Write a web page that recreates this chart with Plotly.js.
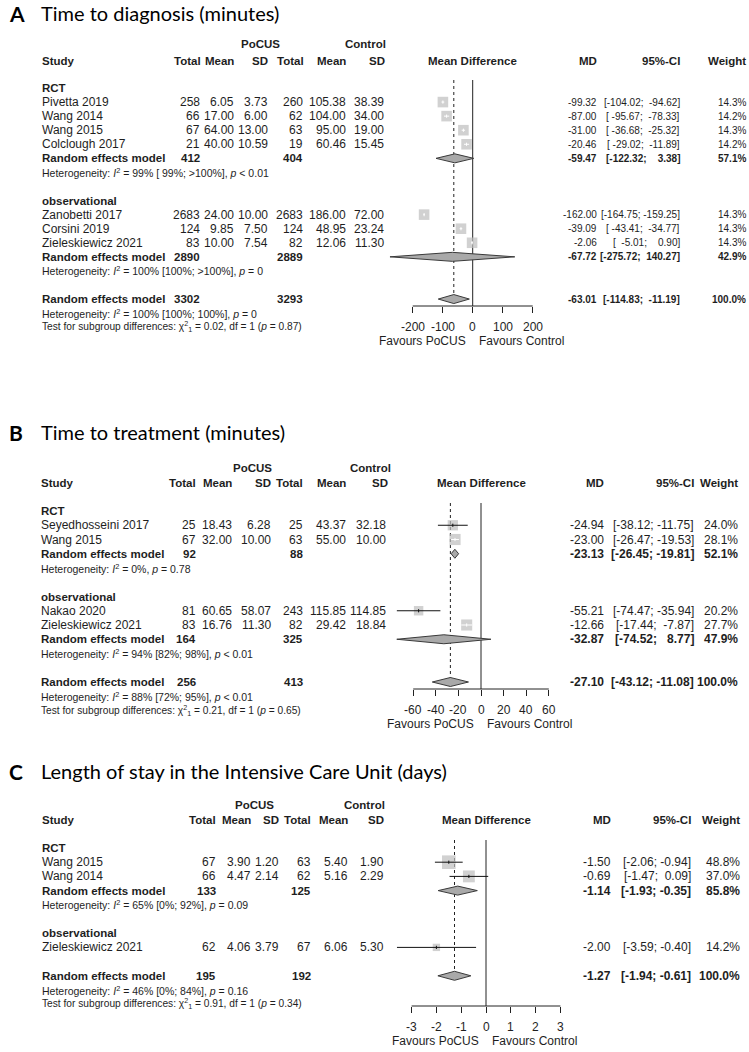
<!DOCTYPE html>
<html><head><meta charset="utf-8">
<script src="https://cdn.plot.ly/plotly-3.0.1.min.js"></script>
<style>body{margin:0;background:#fff}</style>
</head><body><div id="chart" style="width:749px;height:1052px"></div>
<script>
// ================= DATA =================
// Panel A: Time to diagnosis (minutes)
const studiesA = ["Pivetta 2019","Wang 2014","Wang 2015","Colclough 2017","Zanobetti 2017","Corsini 2019","Zieleskiewicz 2021"];
const groupA   = ["RCT","RCT","RCT","RCT","observational","observational","observational"];
const nEA   = [258,66,67,21,2683,124,83];
const meanEA= [6.05,17.00,64.00,40.00,24.00,9.85,10.00];
const sdEA  = [3.73,6.00,13.00,10.59,10.00,7.50,7.54];
const nCA   = [260,62,63,19,2683,124,82];
const meanCA= [105.38,104.00,95.00,60.46,186.00,48.95,12.06];
const sdCA  = [38.39,34.00,19.00,15.45,72.00,23.24,11.30];
const mdA   = [-99.32,-87.00,-31.00,-20.46,-162.00,-39.09,-2.06];
const loA   = [-104.02,-95.67,-36.68,-29.02,-164.75,-43.41,-5.01];
const hiA   = [-94.62,-78.33,-25.32,-11.89,-159.25,-34.77,0.90];
const wA    = [14.3,14.2,14.3,14.2,14.3,14.3,14.3];
const reGroupA = ["RCT","observational"];
const reNEA = [412,2890], reNCA = [404,2889];
const reMDA = [-59.47,-67.72], reLoA = [-122.32,-275.72], reHiA = [3.38,140.27], reWA = [57.1,42.9];
const reHetA = ["Heterogeneity: <i>I</i><sup>2</sup> = 99% [ 99%; &gt;100%], <i>p</i> &lt; 0.01",
                "Heterogeneity: <i>I</i><sup>2</sup> = 100% [100%; &gt;100%], <i>p</i> = 0"];
const totA = {nE:3302, nC:3293, md:-63.01, lo:-114.83, hi:-11.19, w:100.0};
const totHetA = "Heterogeneity: <i>I</i><sup>2</sup> = 100% [100%; 100%], <i>p</i> = 0";
const testA = "Test for subgroup differences: χ<sup>2</sup><sub>1</sub> = 0.02, df = 1 (<i>p</i> = 0.87)";
const ticksA = [-200,-100,0,100,200];

// Panel B: Time to treatment (minutes)
const studiesB = ["Seyedhosseini 2017","Wang 2015","Nakao 2020","Zieleskiewicz 2021"];
const groupB   = ["RCT","RCT","observational","observational"];
const nEB   = [25,67,81,83];
const meanEB= [18.43,32.00,60.65,16.76];
const sdEB  = [6.28,10.00,58.07,11.30];
const nCB   = [25,63,243,82];
const meanCB= [43.37,55.00,115.85,29.42];
const sdCB  = [32.18,10.00,114.85,18.84];
const mdB   = [-24.94,-23.00,-55.21,-12.66];
const loB   = [-38.12,-26.47,-74.47,-17.44];
const hiB   = [-11.75,-19.53,-35.94,-7.87];
const wB    = [24.0,28.1,20.2,27.7];
const reGroupB = ["RCT","observational"];
const reNEB = [92,164], reNCB = [88,325];
const reMDB = [-23.13,-32.87], reLoB = [-26.45,-74.52], reHiB = [-19.81,8.77], reWB = [52.1,47.9];
const reHetB = ["Heterogeneity: <i>I</i><sup>2</sup> = 0%, <i>p</i> = 0.78",
                "Heterogeneity: <i>I</i><sup>2</sup> = 94% [82%; 98%], <i>p</i> &lt; 0.01"];
const totB = {nE:256, nC:413, md:-27.10, lo:-43.12, hi:-11.08, w:100.0};
const totHetB = "Heterogeneity: <i>I</i><sup>2</sup> = 88% [72%; 95%], <i>p</i> &lt; 0.01";
const testB = "Test for subgroup differences: χ<sup>2</sup><sub>1</sub> = 0.21, df = 1 (<i>p</i> = 0.65)";
const ticksB = [-60,-40,-20,0,20,40,60];

// Panel C: Length of stay in the ICU (days)
const studiesC = ["Wang 2015","Wang 2014","Zieleskiewicz 2021"];
const groupC   = ["RCT","RCT","observational"];
const nEC   = [67,66,62];
const meanEC= [3.90,4.47,4.06];
const sdEC  = [1.20,2.14,3.79];
const nCC   = [63,62,67];
const meanCC= [5.40,5.16,6.06];
const sdCC  = [1.90,2.29,5.30];
const mdC   = [-1.50,-0.69,-2.00];
const loC   = [-2.06,-1.47,-3.59];
const hiC   = [-0.94,0.09,-0.40];
const wC    = [48.8,37.0,14.2];
const reGroupC = ["RCT"];
const reNEC = [133], reNCC = [125];
const reMDC = [-1.14], reLoC = [-1.93], reHiC = [-0.35], reWC = [85.8];
const reHetC = ["Heterogeneity: <i>I</i><sup>2</sup> = 65% [0%; 92%], <i>p</i> = 0.09"];
const totC = {nE:195, nC:192, md:-1.27, lo:-1.94, hi:-0.61, w:100.0};
const totHetC = "Heterogeneity: <i>I</i><sup>2</sup> = 46% [0%; 84%], <i>p</i> = 0.16";
const testC = "Test for subgroup differences: χ<sup>2</sup><sub>1</sub> = 0.91, df = 1 (<i>p</i> = 0.34)";
const ticksC = [-3,-2,-1,0,1,2,3];

const groupOrder = ["RCT","observational"];

// ================= DRAWING =================
const W = 749, H = 1052;
const FT = 'Liberation Sans, Arial, sans-serif';
const TF = 'Lato, "Open Sans", sans-serif';
const TXT = '#1e1e1e';
const SQ = '#bdbdbd', DFILL = '#a9a9a9', DLINE = '#3a3a3a';
const BS = 11.5;   // bold size
const traces = [], shapes = [], annotations = [];
const layout = {
  width: W, height: H, margin: {l:0, r:0, t:0, b:0},
  paper_bgcolor: '#fff', plot_bgcolor: 'rgba(0,0,0,0)', showlegend: false,
  yaxis: {range: [H, 0], domain: [0, 1], visible: false, fixedrange: true}
};

function ann(x, y, text, anchor, size, extra) {
  annotations.push(Object.assign({
    xref: 'paper', yref: 'y', x: x / W, y: y, text: text, showarrow: false,
    xanchor: anchor || 'left', yanchor: 'middle', borderpad: 0,
    font: {family: FT, size: size || 12, color: TXT}
  }, extra || {}));
}
const f2 = v => v.toFixed(2);
const pad = (s, n) => '\u00a0'.repeat(Math.max(0, n - s.length)) + s;

function panel(D, C) {
  const xa = C.axis;
  const RS = C.rs;
  const axName = xa === 'x' ? 'xaxis' : 'xaxis' + xa.slice(1);
  const dom = [C.domPx[0] / W, C.domPx[1] / W];
  const range = [(C.domPx[0] - C.zero) / C.scale, (C.domPx[1] - C.zero) / C.scale];
  layout[axName] = {
    domain: dom, range: range, anchor: 'free', position: 1 - C.axisY / H,
    showgrid: false, zeroline: false, showline: false,
    ticks: 'outside', ticklen: 6, tickwidth: 1, tickcolor: '#222',
    tickvals: D.ticks, showticklabels: false, fixedrange: true
  };
  ann(C.letterX, C.titleY, '<b>' + C.letter + '</b>', 'left', 21, {font: {family: TF, size: 21, color: '#000'}});
  ann(C.titleX, C.titleY, C.title, 'left', 20, {font: {family: TF, size: 20, color: '#000'}});
  ann(C.pocusX, C.hdr1Y, '<b>PoCUS</b>', 'center', BS);
  ann(C.controlX, C.hdr1Y, '<b>Control</b>', 'center', BS);
  ann(C.studyX, C.hdr2Y, '<b>Study</b>', 'left', BS);
  const hdrs = ['Total','Mean','SD','Total','Mean','SD'];
  hdrs.forEach((h, j) => ann(C.hdrCols[j], C.hdr2Y, '<b>' + h + '</b>', 'right', BS));
  ann(C.zero, C.hdr2Y, '<b>Mean Difference</b>', 'center', BS);
  ann(C.mdX, C.hdr2Y, '<b>MD</b>', 'right', BS);
  ann(C.ciX, C.hdr2Y, '<b>95%-CI</b>', 'right', BS);
  ann(C.wX, C.hdr2Y, '<b>Weight</b>', 'right', BS);

  const allLo = D.lo.concat(D.reLo, [D.tot.lo]).map(f2);
  const allHi = D.hi.concat(D.reHi, [D.tot.hi]).map(f2);
  const ml = Math.max(...allLo.map(s => s.length)), mu = Math.max(...allHi.map(s => s.length));
  const ci = (lo, hi) => '[' + pad(f2(lo), ml) + '; ' + pad(f2(hi), mu) + ']';

  const yOf = k => C.row0 + k * C.dy;
  let k = 0;
  const sq = {x: [], y: [], s: []};
  const info = [];
  const diamonds = [];
  groupOrder.forEach(g => {
    const idx = D.study.map((s, i) => i).filter(i => D.group[i] === g);
    if (!idx.length) return;
    ann(C.studyX, yOf(k), '<b>' + g + '</b>', 'left', BS); k++;
    idx.forEach(i => {
      const y = yOf(k);
      ann(C.studyX, y, D.study[i], 'left');
      const vals = [String(D.nE[i]), f2(D.meanE[i]), f2(D.sdE[i]), String(D.nC[i]), f2(D.meanC[i]), f2(D.sdC[i])];
      vals.forEach((v, j) => ann(C.valCols[j], y, v, 'right'));
      ann(C.mdX, y, f2(D.md[i]), 'right', RS);
      ann(C.ciX, y, ci(D.lo[i], D.hi[i]), 'right', RS);
      ann(C.wX, y, D.w[i].toFixed(1) + '%', 'right', RS);
      const side = C.sqk * Math.sqrt(D.w[i]);
      sq.x.push(D.md[i]); sq.y.push(y); sq.s.push(side);
      const half = side / 2 / C.scale;
      const inside = D.lo[i] >= D.md[i] - half && D.hi[i] <= D.md[i] + half;
      info[i] = {y: y, col: inside ? '#ffffff' : '#111111'};
      k++;
    });
    const r = D.reGroup.indexOf(g);
    if (r >= 0) {
      const y = yOf(k);
      ann(C.studyX, y, '<b>Random effects model</b>', 'left', BS);
      ann(C.valCols[0], y, '<b>' + D.reNE[r] + '</b>', 'right', BS);
      ann(C.valCols[3], y, '<b>' + D.reNC[r] + '</b>', 'right', BS);
      ann(C.mdX, y, '<b>' + f2(D.reMD[r]) + '</b>', 'right', RS);
      ann(C.ciX, y, '<b>' + ci(D.reLo[r], D.reHi[r]) + '</b>', 'right', RS);
      ann(C.wX, y, '<b>' + D.reW[r].toFixed(1) + '%</b>', 'right', RS);
      diamonds.push({md: D.reMD[r], lo: D.reLo[r], hi: D.reHi[r], y: y});
      k++;
      ann(C.studyX, yOf(k), D.reHet[r], 'left', 10.5); k++;
    }
    k++;
  });
  const yT = yOf(k);
  ann(C.studyX, yT, '<b>Random effects model</b>', 'left', BS);
  ann(C.valCols[0], yT, '<b>' + D.tot.nE + '</b>', 'right', BS);
  ann(C.valCols[3], yT, '<b>' + D.tot.nC + '</b>', 'right', BS);
  ann(C.mdX, yT, '<b>' + f2(D.tot.md) + '</b>', 'right', RS);
  ann(C.ciX, yT, '<b>' + ci(D.tot.lo, D.tot.hi) + '</b>', 'right', RS);
  ann(C.wX, yT, '<b>' + D.tot.w.toFixed(1) + '%</b>', 'right', RS);
  diamonds.push({md: D.tot.md, lo: D.tot.lo, hi: D.tot.hi, y: yT});
  ann(C.studyX, yOf(k + 1), D.totHet, 'left', 10.5);
  ann(C.studyX, yOf(k + 2), D.test, 'left', 10.2);

  shapes.push({type: 'line', xref: xa, yref: 'y', x0: 0, x1: 0, y0: C.lineTop, y1: C.axisY, line: {color: '#222', width: 1}, layer: 'below'});
  shapes.push({type: 'line', xref: xa, yref: 'y', x0: D.tot.md, x1: D.tot.md, y0: C.lineTop, y1: yT - 4, line: {color: '#222', width: 1, dash: 'dot'}, layer: 'below'});
  shapes.push({type: 'line', xref: xa, yref: 'y', x0: D.ticks[0], x1: D.ticks[D.ticks.length - 1], y0: C.axisY, y1: C.axisY, line: {color: '#222', width: 1}});
  D.ticks.forEach(t => annotations.push({xref: xa, yref: 'y', x: t, y: C.axisY + 21, text: String(t), showarrow: false,
    xanchor: 'center', yanchor: 'middle', font: {family: FT, size: 12, color: TXT}}));
  ann(C.zero - 6, C.favY, 'Favours PoCUS', 'right');
  ann(C.zero + 5, C.favY, 'Favours Control', 'left');

  traces.push({type: 'scatter', mode: 'markers', xaxis: xa, yaxis: 'y', x: sq.x, y: sq.y, cliponaxis: false,
    marker: {symbol: 'square', size: sq.s, color: SQ, line: {width: 0}}, hoverinfo: 'skip'});
  D.study.forEach((s, i) => {
    const it = info[i];
    traces.push({type: 'scatter', mode: 'lines', xaxis: xa, yaxis: 'y', x: [D.lo[i], D.hi[i]], y: [it.y, it.y],
      line: {color: it.col, width: 1}, cliponaxis: false, hoverinfo: 'skip'});
    traces.push({type: 'scatter', mode: 'lines', xaxis: xa, yaxis: 'y', x: [D.md[i], D.md[i]], y: [it.y - 1.6, it.y + 1.6],
      line: {color: it.col, width: 1}, cliponaxis: false, hoverinfo: 'skip'});
  });
  diamonds.forEach(d => {
    traces.push({type: 'scatter', mode: 'lines', xaxis: xa, yaxis: 'y', fill: 'toself', fillcolor: DFILL,
      x: [d.lo, d.md, d.hi, d.md, d.lo], y: [d.y, d.y - C.dh, d.y, d.y + C.dh, d.y],
      line: {color: DLINE, width: 1}, cliponaxis: false, hoverinfo: 'skip'});
  });
}

panel({study: studiesA, group: groupA, nE: nEA, meanE: meanEA, sdE: sdEA, nC: nCA, meanC: meanCA, sdC: sdCA,
  md: mdA, lo: loA, hi: hiA, w: wA, reGroup: reGroupA, reNE: reNEA, reNC: reNCA, reMD: reMDA, reLo: reLoA, reHi: reHiA,
  reW: reWA, reHet: reHetA, tot: totA, totHet: totHetA, test: testA, ticks: ticksA},
  {axis: 'x', letter: 'A', title: 'Time to diagnosis (minutes)', letterX: 8, titleX: 40, titleY: 13,
   hdr1Y: 44, hdr2Y: 61, row0: 88, dy: 14.07, studyX: 41,
   valCols: [201, 235, 269, 304, 347, 385], hdrCols: [202, 235, 269, 305, 347, 386],
   pocusX: 260, controlX: 365, zero: 472.7, scale: 0.3, domPx: [380, 570], axisY: 306, favY: 341,
   mdX: 598, ciX: 681, wX: 747, rs: 10, lineTop: 80, sqk: 2.8, dh: 4.5});

panel({study: studiesB, group: groupB, nE: nEB, meanE: meanEB, sdE: sdEB, nC: nCB, meanC: meanCB, sdC: sdCB,
  md: mdB, lo: loB, hi: hiB, w: wB, reGroup: reGroupB, reNE: reNEB, reNC: reNCB, reMD: reMDB, reLo: reLoB, reHi: reHiB,
  reW: reWB, reHet: reHetB, tot: totB, totHet: totHetB, test: testB, ticks: ticksB},
  {axis: 'x2', letter: 'B', title: 'Time to treatment (minutes)', letterX: 8, titleX: 40, titleY: 432,
   hdr1Y: 468, hdr2Y: 483, row0: 511, dy: 14.25, studyX: 40,
   valCols: [197, 233, 272, 304, 347, 387], hdrCols: [197, 233, 272, 304, 347, 389],
   pocusX: 252, controlX: 370, zero: 481, scale: 1.13, domPx: [380, 570], axisY: 689, favY: 724,
   mdX: 605, ciX: 695, wX: 739, rs: 12, lineTop: 503, sqk: 2.1, dh: 4.5});

panel({study: studiesC, group: groupC, nE: nEC, meanE: meanEC, sdE: sdEC, nC: nCC, meanC: meanCC, sdC: sdCC,
  md: mdC, lo: loC, hi: hiC, w: wC, reGroup: reGroupC, reNE: reNEC, reNC: reNCC, reMD: reMDC, reLo: reLoC, reHi: reHiC,
  reW: reWC, reHet: reHetC, tot: totC, totHet: totHetC, test: testC, ticks: ticksC},
  {axis: 'x3', letter: 'C', title: 'Length of stay in the Intensive Care Unit (days)', letterX: 8, titleX: 40, titleY: 771,
   hdr1Y: 805, hdr2Y: 820, row0: 848, dy: 14.2, studyX: 41,
   valCols: [217, 252, 280, 312, 349, 385], hdrCols: [217, 252, 280, 312, 349, 385],
   pocusX: 255, controlX: 364, zero: 486, scale: 24.8, domPx: [380, 580], axisY: 1006, favY: 1041,
   mdX: 612, ciX: 692, wX: 741, rs: 12, lineTop: 840, sqk: 1.95, dh: 4.5});

layout.shapes = shapes;
layout.annotations = annotations;
Plotly.newPlot('chart', traces, layout, {staticPlot: true, displayModeBar: false});
</script>
</body></html>
